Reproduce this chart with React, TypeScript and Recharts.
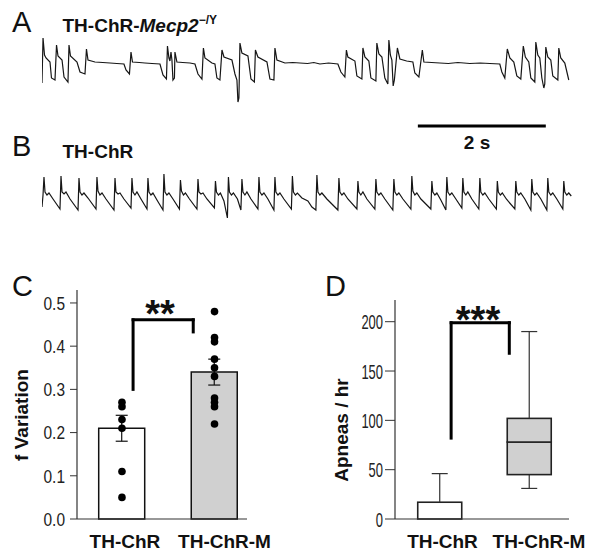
import React from 'react'
import {
  ComposedChart, LineChart, Line, Bar, Cell, ErrorBar, Scatter, XAxis, YAxis, ReferenceLine,
} from 'recharts'

const FONT = "'Liberation Sans', Arial, Helvetica, sans-serif"

// A: TH-ChR-Mecp2-/Y plethysmograph trace [time s, amplitude a.u.]
const traceMecp2: [number, number][] = [
  [0, -20], [0.016, 25], [0.039, 8], [0.063, 5], [0.125, 1], [0.148, -15], [0.203, -17],
  [0.227, 18], [0.25, 7], [0.313, 3], [0.344, -14], [0.406, -19], [0.422, 18], [0.445, 7],
  [0.547, 1], [0.594, -9], [0.672, -11], [0.695, 14], [0.719, 3], [0.828, 1], [0.95, 0.5],
  [1.063, 0], [1.17, -0.5], [1.281, -1], [1.313, -7], [1.367, -11], [1.391, 11], [1.414, 1],
  [1.52, 0.5], [1.609, 0], [1.72, -0.5], [1.844, -1], [1.891, -12], [1.945, -16], [1.961, 17],
  [1.984, 5], [2.0, 2], [2.016, 11], [2.031, 3], [2.047, -17], [2.07, -15], [2.078, 11],
  [2.109, 1], [2.2, 0.5], [2.313, 0], [2.391, -1], [2.438, -11], [2.5, -16], [2.523, 15],
  [2.547, 5], [2.656, 0], [2.703, -1], [2.734, -15], [2.781, -17], [2.813, 13], [2.844, 6],
  [2.969, 3], [3.016, -11], [3.047, -17], [3.063, -39], [3.078, -35], [3.094, 20], [3.125, 10],
  [3.219, 7], [3.266, -16], [3.32, -19], [3.336, 13], [3.375, 6], [3.516, 1], [3.563, -16],
  [3.625, -17], [3.641, 15], [3.672, 3], [3.797, 0], [3.92, 0.5], [4.031, 0], [4.15, -0.5],
  [4.25, 0.5], [4.344, -1], [4.48, 0], [4.625, -1], [4.672, -9], [4.734, -14], [4.758, 13],
  [4.781, 6], [4.891, 2], [4.922, -13], [5.0, -16], [5.016, 15], [5.047, 6], [5.109, 2],
  [5.141, -15], [5.219, -18], [5.234, 20], [5.266, 9], [5.313, 6], [5.359, -15], [5.406, -21],
  [5.422, 23], [5.445, 8], [5.469, 3], [5.489, -23], [5.508, -17], [5.555, 15], [5.594, 4],
  [5.7, 2], [5.797, 1], [5.828, -10], [5.891, -14], [5.945, 13], [5.969, 1], [6.09, 0.5],
  [6.219, 0], [6.35, -0.5], [6.5, 0.5], [6.688, -0.5], [6.85, 0], [7.0, -0.5], [7.156, -1],
  [7.188, -9], [7.234, -15], [7.273, 14], [7.313, 5], [7.375, 1], [7.422, -13], [7.484, -16],
  [7.523, 17], [7.555, 6], [7.609, 1], [7.641, -15], [7.703, -19], [7.719, 21], [7.75, 8],
  [7.781, 5], [7.813, -15], [7.844, -25], [7.859, -21], [7.875, 16], [7.906, 6], [7.953, 3],
  [7.984, -13], [8.063, -17], [8.078, 15], [8.109, 5], [8.172, 0], [8.234, -17],
]

// B: TH-ChR control trace
const traceControl: [number, number][] = [
  [0, -14], [0.016, -2],
  [0.031, 16], [0.047, 1], [0.078, -2], [0.109, 0], [0.172, -6], [0.281, -16],
  [0.297, 17], [0.313, 1], [0.344, -1], [0.375, 1], [0.438, -6], [0.563, -17],
  [0.578, 15], [0.594, 1], [0.625, -2], [0.656, 0], [0.719, -5], [0.844, -16],
  [0.859, 16], [0.875, 2], [0.906, -2], [0.938, 0], [1.0, -6], [1.125, -17],
  [1.141, 15], [1.156, 1], [1.188, -1], [1.219, 0], [1.281, -6], [1.391, -15],
  [1.406, 15], [1.422, 1], [1.453, -2], [1.484, 1], [1.547, -6], [1.641, -16],
  [1.656, 15], [1.672, 1], [1.703, -2], [1.734, 0], [1.797, -7], [1.891, -17],
  [1.906, 19], [1.922, 1], [1.953, -2], [1.984, 0], [2.047, -6], [2.148, -16],
  [2.164, 13], [2.18, 2], [2.211, -2], [2.242, 0], [2.305, -6], [2.422, -16],
  [2.438, 14], [2.453, 1], [2.484, -1], [2.516, 0], [2.578, -6], [2.695, -15],
  [2.711, 12], [2.727, 1], [2.758, -2], [2.789, 0], [2.844, -8], [2.898, -25],
  [2.914, 16], [2.93, 1], [2.961, -2], [2.992, 0], [3.055, -6], [3.109, -17],
  [3.125, 14], [3.141, 1], [3.172, -2], [3.203, 1], [3.266, -6], [3.375, -16],
  [3.391, 16], [3.406, 1], [3.438, -2], [3.469, 0], [3.531, -6], [3.625, -17],
  [3.641, 16], [3.656, 1], [3.688, -2], [3.719, 0], [3.781, -6], [3.898, -16],
  [3.914, 17], [3.93, 1], [3.961, -2], [3.992, 0], [4.063, -5], [4.156, -8], [4.219, -14], [4.281, -17],
  [4.297, 18], [4.313, 1], [4.344, -2], [4.375, 0], [4.453, -6], [4.625, -17],
  [4.641, 15], [4.656, 1], [4.688, -2], [4.719, 0], [4.781, -6], [4.922, -16],
  [4.938, 12], [4.953, 1], [4.984, -2], [5.016, 1], [5.078, -6], [5.203, -16],
  [5.219, 14], [5.234, 1], [5.266, -2], [5.297, 0], [5.359, -6], [5.484, -17],
  [5.5, 14], [5.516, 1], [5.547, -2], [5.578, 0], [5.641, -6], [5.766, -16],
  [5.781, 17], [5.797, 2], [5.828, -2], [5.859, 0], [5.922, -6], [6.078, -16],
  [6.094, 12], [6.109, 1], [6.141, -2], [6.172, 0], [6.234, -7], [6.313, -17],
  [6.328, 16], [6.344, 1], [6.375, -2], [6.406, 0], [6.469, -6], [6.563, -15],
  [6.578, 15], [6.594, 1], [6.625, -2], [6.656, 1], [6.719, -6], [6.828, -16],
  [6.844, 15], [6.859, 1], [6.891, -2], [6.922, 0], [6.984, -6], [7.102, -16],
  [7.117, 12], [7.133, 1], [7.164, -2], [7.195, 0], [7.258, -6], [7.391, -16],
  [7.406, 12], [7.422, 1], [7.453, -2], [7.484, 0], [7.547, -6], [7.641, -17],
  [7.656, 14], [7.672, 1], [7.703, -2], [7.734, 0], [7.797, -6], [7.891, -17],
  [7.906, 15], [7.922, 1], [7.953, -2], [7.984, 0], [8.047, -6], [8.141, -16],
  [8.156, 12], [8.172, 1], [8.203, -2], [8.234, 0], [8.273, -3],
]

const scaleBarStart = 5.875
const scaleBarSeconds = 2

// C: f variation
const groups = ['TH-ChR', 'TH-ChR-M']
const fVarMean = [0.21, 0.34]
const fVarSem = [0.03, 0.03]
const fVarChR = [0.27, 0.26, 0.23, 0.21, 0.11, 0.05]
const fVarChRM = [0.48, 0.42, 0.41, 0.37, 0.35, 0.33, 0.28, 0.27, 0.26, 0.22]
const fVarTicks = [0, 0.1, 0.2, 0.3, 0.4, 0.5]

// D: apneas per hour, box stats
const apneaMin = [0, 31]
const apneaQ1 = [0, 45]
const apneaMedian = [0, 78]
const apneaQ3 = [17, 102]
const apneaMax = [46, 190]
const apneaTicks = [0, 50, 100, 150, 200]

// significance brackets [group position, value]
const bracketC: [number, number][] = [[0.12, 0.3], [0.12, 0.461], [0.77, 0.461], [0.77, 0.433]]
const bracketD: [number, number][] = [[0.13, 82], [0.13, 199], [0.78, 199], [0.78, 168]]

const traceAData = traceMecp2.map(([t, v]) => ({ t, v }))
const traceBData = traceControl.map(([t, v]) => ({ t, v }))
const barData = groups.map((g, i) => ({ pos: i, mean: fVarMean[i], sem: fVarSem[i] }))
const dotData = [
  ...fVarChR.map(v => ({ pos: 0, v })),
  ...fVarChRM.map(v => ({ pos: 1, v })),
]
const boxData = groups.map((g, i) => ({
  pos: i,
  base: apneaMin[i],
  lowWhisker: apneaQ1[i] - apneaMin[i],
  lowBox: apneaMedian[i] - apneaQ1[i],
  highBox: apneaQ3[i] - apneaMedian[i],
  highWhisker: apneaMax[i] - apneaQ3[i],
}))
const toSegments = (pts: [number, number][]) =>
  pts.slice(1).map((p, i) => [{ x: pts[i][0], y: pts[i][1] }, { x: p[0], y: p[1] }])

const fills = ['#ffffff', '#d0d0d0']
const labelShift = [3, 10]

// narrow numeric tick labels (the original uses a condensed face)
const squeezedTick = (charW: number, fs: number, gap: number, fmt: (v: number) => string) => (props: any) => {
  const { y, payload } = props
  const label = fmt(payload.value)
  const w = label.replace('.', '').length * charW + (label.includes('.') ? charW * 0.5 : 0)
  return (
    <text x={props.x - gap - w} y={y} dy="0.36em" textLength={w} lengthAdjust="spacingAndGlyphs"
      style={{ fontSize: fs, fontFamily: FONT }} fill="#222">
      {label}
    </text>
  )
}

const groupTick = (props: any) => {
  const { x, y, payload } = props
  return (
    <text x={x + labelShift[payload.value]} y={y + 29} textAnchor="middle"
      style={{ fontSize: 19, fontWeight: 'bold', fontFamily: FONT }} fill="#111">
      {groups[payload.value]}
    </text>
  )
}

const whisker = (end: 'top' | 'bottom') => (props: any) => {
  const { x, y, width, height } = props
  if (!height || height <= 0) return <g />
  const cx = x + width / 2
  const capY = end === 'top' ? y : y + height
  return (
    <g stroke="#333" strokeWidth={1.2}>
      <line x1={cx} x2={cx} y1={y} y2={y + height} />
      <line x1={cx - 8} x2={cx + 8} y1={capY} y2={capY} />
    </g>
  )
}

const boxPart = (props: any) => {
  const { x, y, width, height, payload } = props
  if (!height || height <= 0) return <g />
  return <rect x={x} y={y} width={width} height={height} fill={fills[payload.pos]} stroke="#222" strokeWidth={1.6} />
}

const dot = (props: any) => <circle cx={props.cx} cy={props.cy} r={3.8} fill="#000" />

export default function App() {
  return (
    <div style={{ position: 'absolute', left: 0, top: 0, width: 600, height: 558, background: '#fff', fontFamily: FONT }}>
      <div style={{ position: 'absolute', left: 42, top: 35 }}>
        <LineChart width={531} height={70} data={traceAData} margin={{ top: 0, right: 0, left: 0, bottom: 0 }}>
          <XAxis type="number" dataKey="t" domain={[0, 8.3]} hide />
          <YAxis type="number" domain={[-42, 28]} hide />
          <Line type="linear" dataKey="v" stroke="#161616" strokeWidth={1.2} dot={false} isAnimationActive={false} />
        </LineChart>
      </div>

      <div style={{ position: 'absolute', left: 42, top: 120 }}>
        <LineChart width={531} height={103} data={traceBData} margin={{ top: 0, right: 0, left: 0, bottom: 0 }}>
          <XAxis type="number" dataKey="t" domain={[0, 8.3]} hide />
          <YAxis type="number" domain={[-30, 73]} hide />
          <Line type="linear" dataKey="v" stroke="#161616" strokeWidth={1.2} dot={false} isAnimationActive={false} />
          <ReferenceLine
            segment={[{ x: scaleBarStart, y: 67 }, { x: scaleBarStart + scaleBarSeconds, y: 67 }]}
            stroke="#000" strokeWidth={3}
          />
        </LineChart>
      </div>

      <div style={{ position: 'absolute', left: 0, top: 260 }}>
        <ComposedChart width={300} height={298} data={barData} margin={{ top: 30, right: 53, left: 17, bottom: 9 }}>
          <XAxis type="number" dataKey="pos" domain={[-0.486, 1.351]} ticks={[0, 1]} interval={0}
            axisLine={{ stroke: '#333', strokeWidth: 1.2 }} tickLine={false} tickSize={0} tickMargin={0}
            tick={groupTick} />
          <YAxis type="number" domain={[0, 0.53]} ticks={fVarTicks} interval={0} width={60}
            axisLine={{ stroke: '#333', strokeWidth: 1.2 }} tickLine={{ stroke: '#333' }} tickSize={7} tickMargin={0}
            tick={squeezedTick(8.6, 19, 5, (v) => v.toFixed(1))} />
          <Bar dataKey="mean" barSize={46} stroke="#111" strokeWidth={1.5} isAnimationActive={false}>
            {barData.map((d, i) => <Cell key={i} fill={fills[i]} />)}
            <ErrorBar dataKey="sem" width={6} stroke="#111" strokeWidth={1.2} direction="y" />
          </Bar>
          <Scatter data={dotData} dataKey="v" shape={dot} isAnimationActive={false} />
          {toSegments(bracketC).map((seg, i) => (
            <ReferenceLine key={i} segment={seg} stroke="#000" strokeWidth={3} strokeLinecap="square" />
          ))}
        </ComposedChart>
      </div>

      <div style={{ position: 'absolute', left: 300, top: 260 }}>
        <ComposedChart width={300} height={298} data={boxData} margin={{ top: 40, right: 31, left: 35, bottom: 9 }}>
          <XAxis type="number" dataKey="pos" domain={[-0.497, 1.447]} ticks={[0, 1]} interval={0}
            axisLine={{ stroke: '#333', strokeWidth: 1.2 }} tickLine={false} tickSize={0} tickMargin={0}
            tick={groupTick} />
          <YAxis type="number" domain={[0, 222]} ticks={apneaTicks} interval={0} width={60}
            axisLine={{ stroke: '#333', strokeWidth: 1.2 }} tickLine={{ stroke: '#333' }} tickSize={10} tickMargin={0}
            tick={squeezedTick(7.2, 21, 2, (v) => String(v))} />
          <Bar dataKey="base" stackId="box" barSize={44} fill="none" isAnimationActive={false} />
          <Bar dataKey="lowWhisker" stackId="box" barSize={44} shape={whisker('bottom')} isAnimationActive={false} />
          <Bar dataKey="lowBox" stackId="box" barSize={44} shape={boxPart} isAnimationActive={false} />
          <Bar dataKey="highBox" stackId="box" barSize={44} shape={boxPart} isAnimationActive={false} />
          <Bar dataKey="highWhisker" stackId="box" barSize={44} shape={whisker('top')} isAnimationActive={false} />
          {toSegments(bracketD).map((seg, i) => (
            <ReferenceLine key={i} segment={seg} stroke="#000" strokeWidth={3} strokeLinecap="square" />
          ))}
        </ComposedChart>
      </div>

      <svg width={600} height={558} style={{ position: 'absolute', left: 0, top: 0, pointerEvents: 'none' }}
        fontFamily={FONT} fill="#111">
        <text x={12} y={32} fontSize={29}>A</text>
        <text x={62.5} y={32} fontSize={19} fontWeight="bold">
          TH-ChR-<tspan fontStyle="italic">Mecp2</tspan>
          <tspan fontSize={12} dy={-8}>−/Y</tspan>
        </text>
        <text x={12} y={156} fontSize={29}>B</text>
        <text x={62.5} y={158} fontSize={19} fontWeight="bold">TH-ChR</text>
        <text x={477} y={149} fontSize={19} fontWeight="bold" textAnchor="middle">2 s</text>
        <text x={12} y={296} fontSize={29}>C</text>
        <text x={325} y={296} fontSize={29}>D</text>
        <text x={160} y={327} fontSize={38} fontWeight="bold" textAnchor="middle">**</text>
        <text x={478} y={333} fontSize={38} fontWeight="bold" textAnchor="middle">***</text>
        <text transform="translate(28,415) rotate(-90)" fontSize={19} fontWeight="bold" textAnchor="middle">f Variation</text>
        <text transform="translate(348,430) rotate(-90)" fontSize={19} fontWeight="bold" textAnchor="middle">Apneas / hr</text>
      </svg>
    </div>
  )
}
